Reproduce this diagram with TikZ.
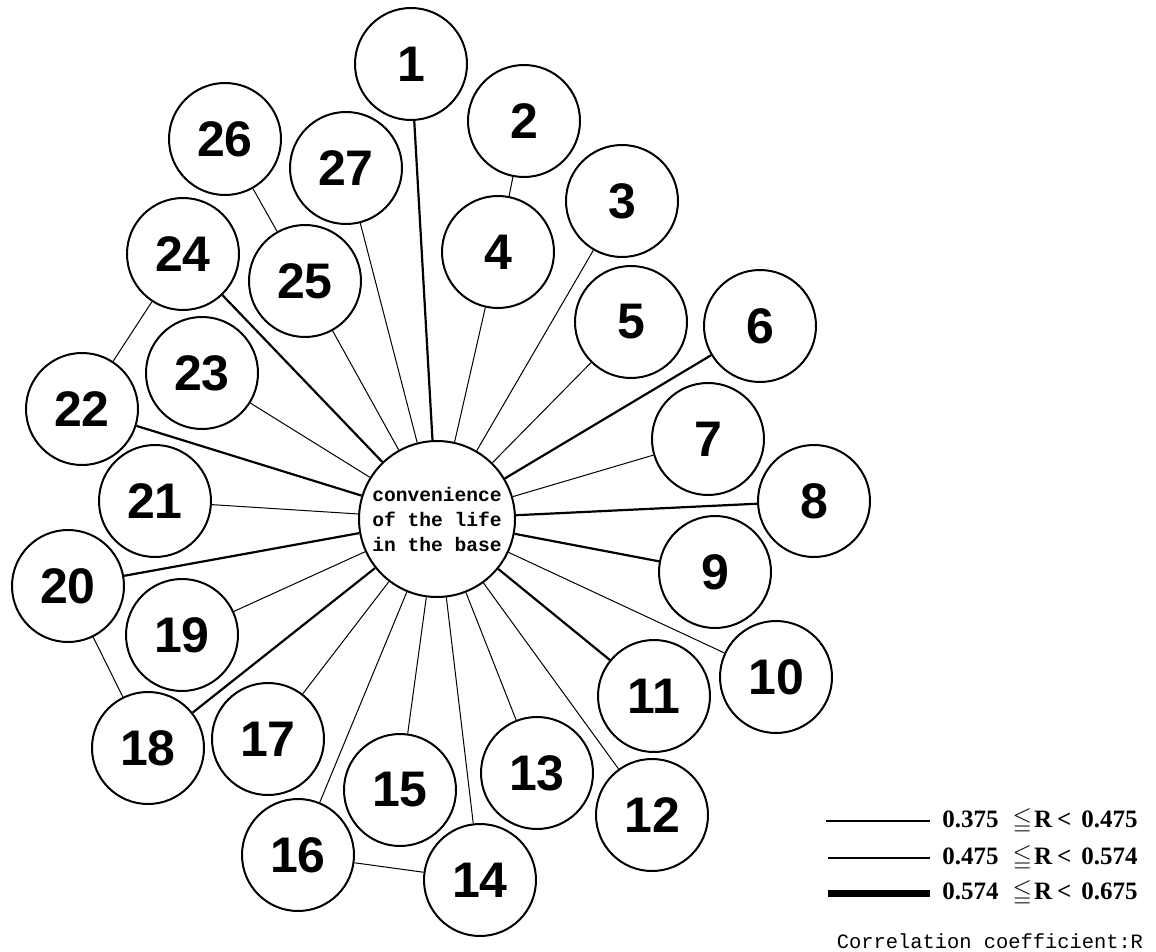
\documentclass[tikz,border=0pt]{standalone}
\usepackage{amssymb}
\usepackage{fontspec}
\newfontfamily\numfont{Liberation Sans}
\newfontfamily\monofont{Liberation Mono}
\newfontfamily\legfont{Liberation Serif}
\begin{document}
\begin{tikzpicture}[x=0.5pt,y=-0.5pt,
  sat/.style={circle,draw,line width=1pt,minimum size=56pt,inner sep=0pt,
    font=\numfont\bfseries\fontsize{25}{25}\selectfont},
  hub/.style={circle,draw,line width=1pt,minimum size=78pt,inner sep=0pt,align=center,
    font=\monofont\bfseries\fontsize{9.8}{12.5}\selectfont},
  thinR/.style={line width=0.5pt},
  midR/.style={line width=1.1pt},
  thickR/.style={line width=3.5pt},
  legtext/.style={anchor=west,inner sep=0pt,font=\legfont\bfseries\fontsize{12.5}{12.5}\selectfont},
]
\useasboundingbox (0,0) rectangle (1156,952);
\node[hub] (c) at (437,519) {convenience\\of the life\\in the base};
\node[sat] (n1) at (411,64) {1};
\node[sat] (n2) at (524,121) {2};
\node[sat] (n3) at (622,201) {3};
\node[sat] (n4) at (498,252) {4};
\node[sat] (n5) at (631,322) {5};
\node[sat] (n6) at (760,326) {6};
\node[sat] (n7) at (708,439) {7};
\node[sat] (n8) at (814,501) {8};
\node[sat] (n9) at (715,572) {9};
\node[sat] (n10) at (776,677) {10};
\node[sat] (n11) at (654,696) {11};
\node[sat] (n12) at (652,815) {12};
\node[sat] (n13) at (537,773) {13};
\node[sat] (n14) at (480,880) {14};
\node[sat] (n15) at (400,790) {15};
\node[sat] (n16) at (298,855) {16};
\node[sat] (n17) at (268,739) {17};
\node[sat] (n18) at (148,748) {18};
\node[sat] (n19) at (182,635) {19};
\node[sat] (n20) at (68,586) {20};
\node[sat] (n21) at (155,501) {21};
\node[sat] (n22) at (82,409) {22};
\node[sat] (n23) at (202,373) {23};
\node[sat] (n24) at (183,254) {24};
\node[sat] (n25) at (305,281) {25};
\node[sat] (n26) at (225,139) {26};
\node[sat] (n27) at (346,168) {27};
% hub connectors
\foreach \n in {3,4,5,7,10,12,13,14,15,16,17,19,21,23,25,27}
  \draw[thinR] (c) -- (n\n);
\foreach \n in {1,6,8,9,11,18,20,22,24}
  \draw[midR] (c) -- (n\n);
% satellite links
\draw[thinR] (n2) -- (n4);
\draw[thinR] (n26) -- (n25);
\draw[thinR] (n24) -- (n22);
\draw[thinR] (n20) -- (n18);
\draw[thinR] (n16) -- (n14);
% legend
\coordinate (la1) at (826,821); \coordinate (lb1) at (930,821);
\coordinate (la2) at (828,858); \coordinate (lb2) at (930,858);
\coordinate (la3) at (828,893); \coordinate (lb3) at (930,893);
\draw[line width=0.9pt] (la1) -- (lb1);
\draw[line width=1.3pt] (la2) -- (lb2);
\draw[thickR] (la3) -- (lb3);
\node[legtext] (t1) at (942,821) {0.375\hspace{7pt}$\leqq$\hspace{1pt}R\hspace{2.5pt}<\hspace{5pt}0.475};
\node[legtext] (t2) at (942,858) {0.475\hspace{7pt}$\leqq$\hspace{1pt}R\hspace{2.5pt}<\hspace{5pt}0.574};
\node[legtext] (t3) at (942,893) {0.574\hspace{7pt}$\leqq$\hspace{1pt}R\hspace{2.5pt}<\hspace{5pt}0.675};
\node[inner sep=0pt,font=\monofont\fontsize{10.2}{10.2}\selectfont] (cap) at (990,941) {Correlation coefficient:R};
\end{tikzpicture}
\end{document}
